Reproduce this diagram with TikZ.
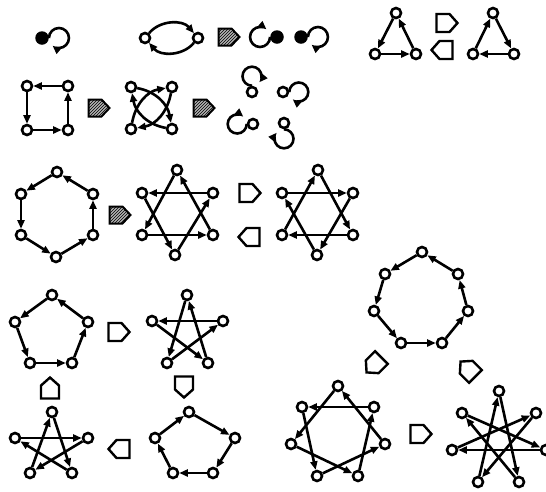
\documentclass[tikz,border=0pt]{standalone}
\usetikzlibrary{arrows.meta,patterns}
\tikzset{
  vtx/.style={circle,draw,line width=2.6pt,minimum size=10pt,inner sep=0pt,fill=white},
  dot/.style={circle,fill,minimum size=13.5pt,inner sep=0pt},
  link/.style={line width=2.6pt,-{Triangle[length=8.5pt,width=7pt]}},
  blockarrow/.pic={\draw[line width=2.4pt,line join=miter] (-10.5,-9) -- (2.5,-9) -- (10.5,0) -- (2.5,9) -- (-10.5,9) -- cycle;},
  hatcharrow/.pic={\draw[line width=2pt,fill=gray!60,postaction={pattern=north east lines}] (-10.5,-8.5) -- (2.5,-8.5) -- (10.5,0) -- (2.5,8.5) -- (-10.5,8.5) -- cycle;}
}
\begin{document}
\begin{tikzpicture}[x=1pt,y=1pt]
  \useasboundingbox (0,0) rectangle (546,-491);

  % fixed points and 2-cycle
  \node[dot] (s1) at (42,-38) {};
  \draw[link] (s1.0) arc[start angle=180,end angle=-130,radius=10];
  \node[vtx] (d1) at (145,-38) {};
  \node[vtx] (d2) at (198,-38) {};
  \draw[link] (d1) to[bend left=50] (d2);
  \draw[link] (d2) to[bend left=50] (d1);
  \pic at (229,-37) {hatcharrow};
  \node[dot] (s2) at (277,-37) {};
  \draw[link] (s2.180) arc[start angle=360,end angle=50,radius=10];
  \node[dot] (s3) at (301,-37) {};
  \draw[link] (s3.0) arc[start angle=180,end angle=-130,radius=10];

  % triangles
  \foreach \n/\x/\y in {a/396/13, b/375/54, c/416/54}
    \node[vtx] (ta\n) at (\x,-\y) {};
  \foreach \p/\q in {a/b, b/c, c/a}
    \draw[link] (ta\p) -- (ta\q);
  \pic at (447,-23) {blockarrow};
  \pic[rotate=180] at (442,-50) {blockarrow};
  \foreach \n/\x/\y in {a/493/13, b/473/54, c/514/54}
    \node[vtx] (tb\n) at (\x,-\y) {};
  \foreach \p/\q in {b/a, a/c, c/b}
    \draw[link] (tb\p) -- (tb\q);

  % squares
  \foreach \n/\x/\y in {a/27/86, b/27/130, c/68/130, d/68/86}
    \node[vtx] (qa\n) at (\x,-\y) {};
  \foreach \p/\q in {a/b, b/c, c/d, d/a}
    \draw[link] (qa\p) -- (qa\q);
  \pic at (99,-108) {hatcharrow};
  \foreach \n/\x/\y in {a/131/87, b/131/129, c/172/129, d/172/87}
    \node[vtx] (qb\n) at (\x,-\y) {};
  \draw[link] (qbb) to[out=80,in=190] (qbd);
  \draw[link] (qbd) to[out=260,in=10] (qbb);
  \draw[link] (qba) to[out=-10,in=100] (qbc);
  \draw[link] (qbc) to[out=170,in=280] (qba);
  \pic at (204,-108) {hatcharrow};
  \foreach \n/\x/\y/\a in {a/252/92/90, b/283/92/0, c/253/124/180, d/284/123/270}{
    \node[vtx] (lp\n) at (\x,-\y) {};
    \draw[link] (lp\n.\a) arc[start angle=\a+180,end angle=\a-130,radius=9.5];
  }

  % hexagons
  \foreach \n/\x/\y in {a/57/172, b/21/194, c/21/235, d/56/257, e/93/235, f/93/194}
    \node[vtx] (ha\n) at (\x,-\y) {};
  \foreach \p/\q in {a/b, b/c, c/d, d/e, e/f, f/a}
    \draw[link] (ha\p) -- (ha\q);
  \pic at (120,-215) {hatcharrow};
  \foreach \n/\x/\y in {a/177/170, b/142/193, c/142/235, d/175/255, e/213/235, f/213/193}
    \node[vtx] (hb\n) at (\x,-\y) {};
  \foreach \p/\q in {a/c, b/d, c/e, d/f, e/a, f/b}
    \draw[link] (hb\p) -- (hb\q);
  \pic at (250,-193) {blockarrow};
  \pic[rotate=180] at (249,-237) {blockarrow};
  \foreach \n/\x/\y in {a/318/170, b/282/193, c/282/235, d/317/255, e/353/235, f/353/193}
    \node[vtx] (hc\n) at (\x,-\y) {};
  \foreach \p/\q in {c/a, d/b, e/c, f/d, a/e, b/f}
    \draw[link] (hc\p) -- (hc\q);

  % pentagons
  \foreach \n/\x/\y in {a/52/295, b/15/322, c/30/363, d/72/363, e/88/322}
    \node[vtx] (pa\n) at (\x,-\y) {};
  \foreach \p/\q in {a/b, b/c, c/d, d/e, e/a}
    \draw[link] (pa\p) -- (pa\q);
  \pic at (119,-332) {blockarrow};
  \foreach \n/\x/\y in {a/187/295, b/152/321, c/167/363, d/208/363, e/223/321}
    \node[vtx] (pb\n) at (\x,-\y) {};
  \foreach \p/\q in {a/c, b/d, c/e, d/a, e/b}
    \draw[link] (pb\p) -- (pb\q);
  \pic[rotate=-90] at (184,-387) {blockarrow};
  \foreach \n/\x/\y in {a/189/412, b/155/438, c/173/473, d/213/473, e/235/438}
    \node[vtx] (pc\n) at (\x,-\y) {};
  \foreach \p/\q in {b/a, c/b, d/c, e/d, a/e}
    \draw[link] (pc\p) -- (pc\q);
  \pic[rotate=180] at (119,-449) {blockarrow};
  \foreach \n/\x/\y in {a/52/412, b/15/438, c/30/473, d/72/473, e/88/438}
    \node[vtx] (pd\n) at (\x,-\y) {};
  \foreach \p/\q in {c/a, d/b, e/c, a/d, b/e}
    \draw[link] (pd\p) -- (pd\q);
  \pic[rotate=90] at (50,-388) {blockarrow};

  % heptagons
  \foreach \n/\x/\y in {a/422/252, b/385/274, c/374/311, d/401/343, e/442/343, f/468/311, g/458/274}
    \node[vtx] (ga\n) at (\x,-\y) {};
  \foreach \p/\q in {a/b, b/c, c/d, d/e, e/f, f/g, g/a}
    \draw[link] (ga\p) -- (ga\q);
  \pic[rotate=225] at (374,-365) {blockarrow};
  \pic[rotate=135] at (468,-369) {blockarrow};
  \foreach \n/\x/\y in {a/338/386, b/302/407, c/291/444, d/317/476, e/358/476, f/385/444, g/374/407}
    \node[vtx] (gb\n) at (\x,-\y) {};
  \foreach \p/\q in {a/c, b/d, c/e, d/f, e/g, f/a, g/b}
    \draw[link] (gb\p) -- (gb\q);
  \pic at (421,-434) {blockarrow};
  \foreach \n/\x/\y in {a/499/391, b/462/413, c/452/450, d/478/482, e/519/482, f/546/450, g/536/413}
    \node[vtx] (gc\n) at (\x,-\y) {};
  \foreach \p/\q in {a/e, b/f, c/g, d/a, e/b, f/c, g/d}
    \draw[link] (gc\p) -- (gc\q);
\end{tikzpicture}
\end{document}
